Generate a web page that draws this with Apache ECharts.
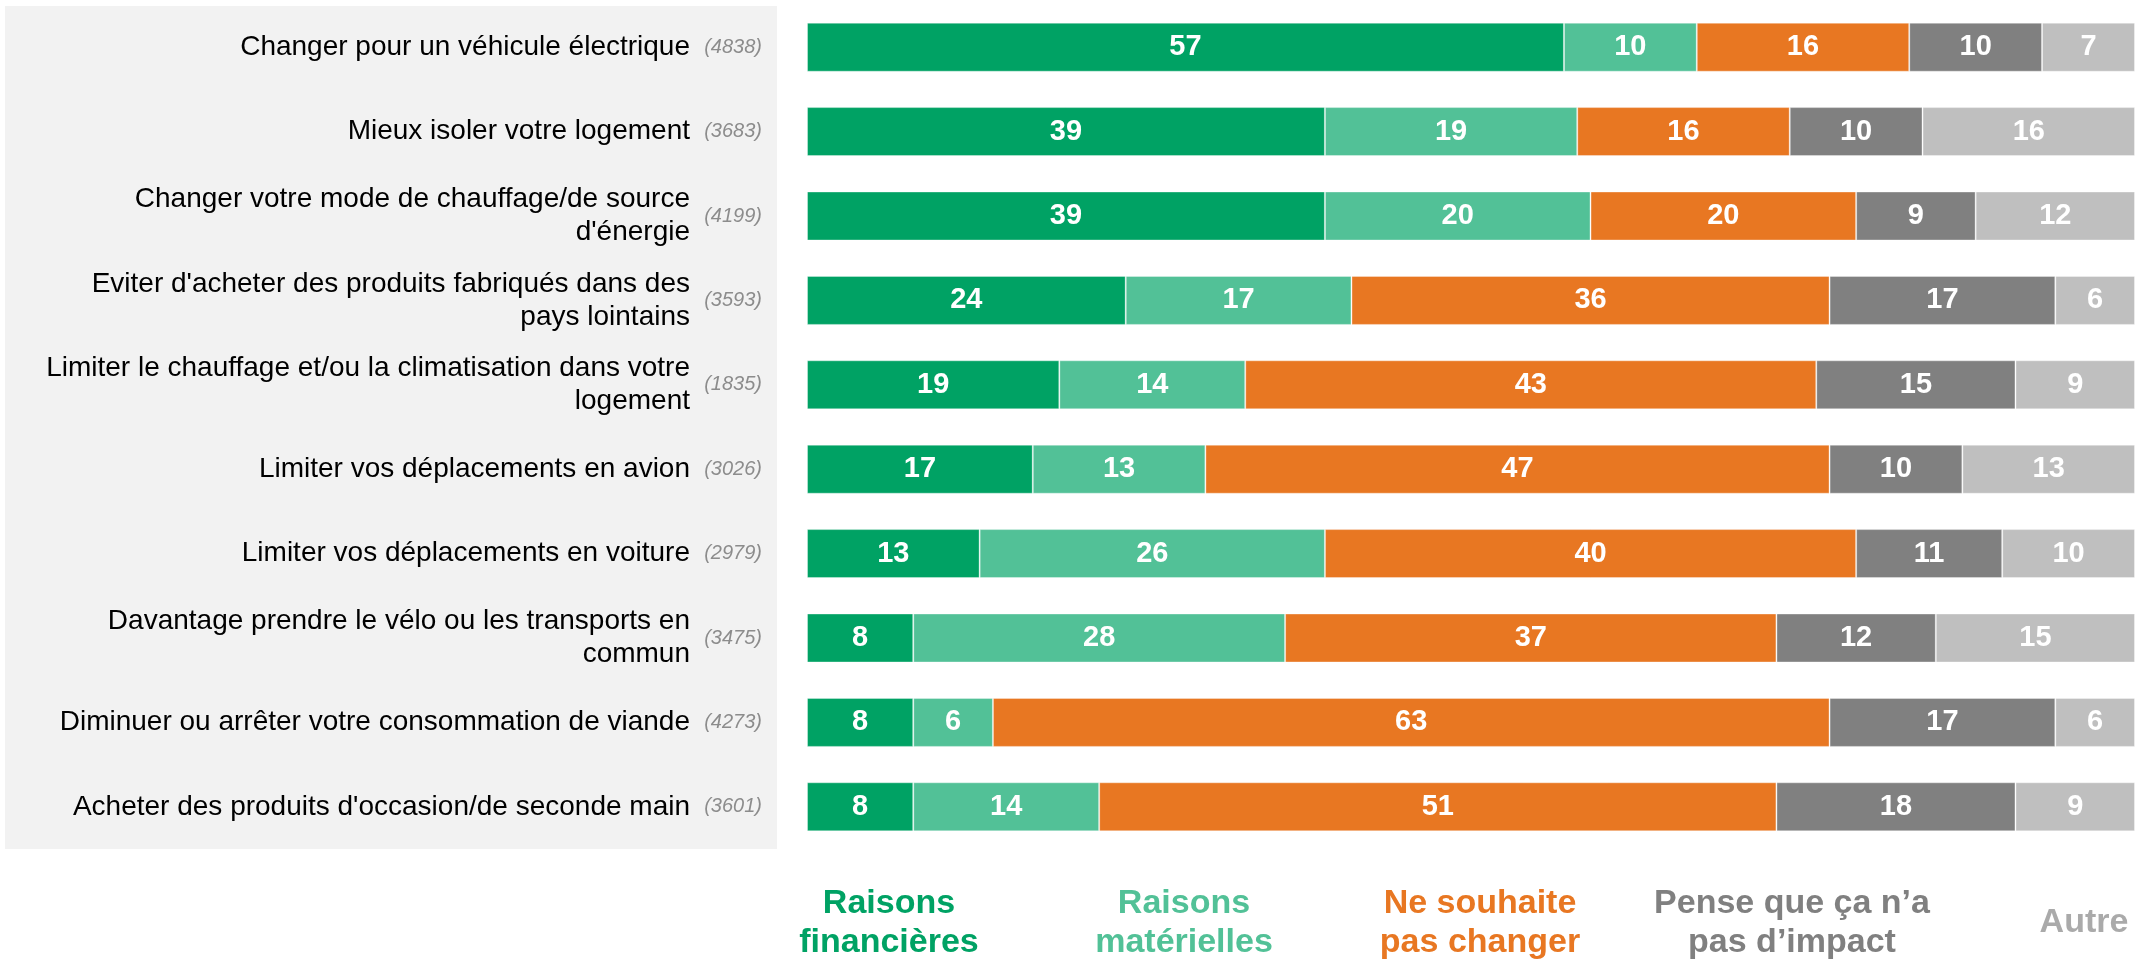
<!DOCTYPE html>
<html>
<head>
<meta charset="utf-8">
<script src="https://cdn.jsdelivr.net/npm/echarts@6/dist/echarts.min.js"></script>
<style>
html,body{margin:0;padding:0;background:#fff;}
#chart{width:2138px;height:962px;}
</style>
</head>
<body>
<div id="chart"></div>
<script>
const categories = [
  "Changer pour un véhicule électrique",
  "Mieux isoler votre logement",
  "Changer votre mode de chauffage/de source\nd'énergie",
  "Eviter d'acheter des produits fabriqués dans des\npays lointains",
  "Limiter le chauffage et/ou la climatisation dans votre\nlogement",
  "Limiter vos déplacements en avion",
  "Limiter vos déplacements en voiture",
  "Davantage prendre le vélo ou les transports en\ncommun",
  "Diminuer ou arrêter votre consommation de viande",
  "Acheter des produits d'occasion/de seconde main"
];
const counts = [4838, 3683, 4199, 3593, 1835, 3026, 2979, 3475, 4273, 3601];

const seriesNames = ["Raisons financières", "Raisons matérielles", "Ne souhaite pas changer", "Pense que ça n’a pas d’impact", "Autre"];
const legendLines = ["Raisons\nfinancières", "Raisons\nmatérielles", "Ne souhaite\npas changer", "Pense que ça n’a\npas d’impact", "Autre"];

const financieres = [57, 39, 39, 24, 19, 17, 13, 8, 8, 8];
const materielles = [10, 19, 20, 17, 14, 13, 26, 28, 6, 14];
const neSouhaite  = [16, 16, 20, 36, 43, 47, 40, 37, 63, 51];
const pasImpact   = [10, 10, 9, 17, 15, 10, 11, 12, 17, 18];
const autre       = [7, 16, 12, 6, 9, 13, 10, 15, 6, 9];

const barColors = ["#00A264", "#52C197", "#E87722", "#808080", "#BFBFBF"];
const legendColors = ["#00A264", "#52C197", "#E87722", "#808080", "#AAAAAA"];
const legendX = [889, 1184, 1480, 1792, 2084];

const FONT = "'Liberation Sans', Arial, Helvetica, sans-serif";
const allValues = [financieres, materielles, neSouhaite, pasImpact, autre];

const chart = echarts.init(document.getElementById('chart'), null, {renderer: 'canvas'});

const series = allValues.map((vals, i) => ({
  name: seriesNames[i],
  type: 'bar',
  stack: 'total',
  barWidth: 49,
  data: vals,
  itemStyle: {color: barColors[i], borderColor: 'rgba(255,255,255,0.35)', borderWidth: 1},
  label: {
    show: true,
    position: 'inside',
    color: '#fff',
    fontFamily: FONT,
    fontWeight: 'bold',
    fontSize: 29,
    formatter: p => p.value
  },
  emphasis: {disabled: true}
}));

const option = {
  animation: false,
  backgroundColor: '#fff',
  grid: {left: 807, right: 3, top: 5, height: 844, containLabel: false},
  xAxis: {type: 'value', min: 0, max: 100, show: false},
  yAxis: [
    {
      type: 'category',
      inverse: true,
      data: categories,
      position: 'left',
      axisLine: {show: false},
      axisTick: {show: false},
      splitLine: {show: false},
      axisLabel: {
        margin: 117,
        fontFamily: FONT,
        fontSize: 28,
        lineHeight: 33,
        color: '#000',
        align: 'right'
      }
    },
    {
      type: 'category',
      inverse: true,
      data: counts.map(c => '(' + c + ')'),
      position: 'left',
      axisLine: {show: false},
      axisTick: {show: false},
      splitLine: {show: false},
      axisLabel: {
        margin: 45,
        fontFamily: FONT,
        fontSize: 20,
        fontStyle: 'italic',
        color: '#8C8C8C',
        align: 'right'
      }
    }
  ],
  graphic: [
    {
      type: 'rect',
      z: -10,
      silent: true,
      shape: {x: 5, y: 6, width: 772, height: 843},
      style: {fill: '#F2F2F2'}
    }
  ].concat(legendLines.map((t, i) => ({
    type: 'text',
    x: legendX[i],
    y: 923,
    silent: true,
    style: {
      text: t,
      fill: legendColors[i],
      font: 'bold 34px ' + FONT,
      lineHeight: 39,
      align: 'center',
      verticalAlign: 'middle'
    }
  }))),
  series: series
};

chart.setOption(option);
</script>
</body>
</html>
